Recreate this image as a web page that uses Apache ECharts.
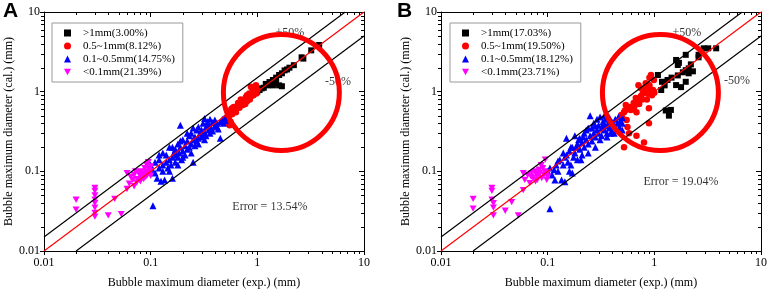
<!DOCTYPE html>
<html>
<head>
<meta charset="utf-8">
<script src="https://cdn.jsdelivr.net/npm/echarts@6/dist/echarts.min.js"></script>
<style>
html, body { margin: 0; padding: 0; background: #fff; }
#main { width: 768px; height: 291px; }
</style>
</head>
<body>
<div id="main"></div>
<script>
// ---- panel A data (exp., cal.) in mm
const bigA = [[1.0,1.0],[1.05,1.05],[1.1,1.1],[1.15,1.12],[1.2,1.25],[1.25,1.2],[1.3,1.32],[1.4,1.4],[1.4,1.2],[1.45,1.35],[1.5,1.5],[1.5,1.28],[1.6,1.62],[1.6,1.2],[1.7,1.17],[1.7,1.7],[1.8,1.85],[1.9,1.9],[2.0,2.0],[2.2,2.15],[2.6,2.7],[2.7,2.6],[3.2,3.3],[3.8,3.85]];
const midA = [[0.52,0.4],[0.53,0.5],[0.54,0.45],[0.55,0.55],[0.56,0.42],[0.57,0.6],[0.58,0.52],[0.6,0.57],[0.6,0.64],[0.62,0.6],[0.63,0.55],[0.65,0.66],[0.66,0.72],[0.68,0.63],[0.7,0.7],[0.72,0.75],[0.73,0.68],[0.75,0.78],[0.76,0.72],[0.78,0.85],[0.8,0.76],[0.8,0.9],[0.82,0.82],[0.84,0.95],[0.85,0.8],[0.87,1.15],[0.88,0.88],[0.9,0.95],[0.92,0.9],[0.93,1.05],[0.95,1.0],[0.97,1.2],[0.98,0.95],[1.0,1.05],[0.55,0.38],[0.51,0.47],[0.58,0.62],[0.7,0.8],[0.77,0.7],[0.9,1.1]];
const smallA = [[0.1,0.12],[0.105,0.037],[0.105,0.1],[0.11,0.13],[0.11,0.095],[0.115,0.082],[0.12,0.11],[0.12,0.14],[0.125,0.075],[0.13,0.12],[0.13,0.1],[0.135,0.078],[0.14,0.13],[0.14,0.16],[0.145,0.11],[0.15,0.14],[0.15,0.2],[0.155,0.12],[0.16,0.15],[0.16,0.082],[0.165,0.17],[0.17,0.13],[0.17,0.19],[0.175,0.16],[0.18,0.15],[0.18,0.22],[0.185,0.17],[0.19,0.38],[0.19,0.2],[0.195,0.14],[0.2,0.18],[0.2,0.25],[0.21,0.21],[0.21,0.16],[0.22,0.24],[0.22,0.19],[0.23,0.28],[0.23,0.2],[0.24,0.22],[0.24,0.3],[0.25,0.13],[0.25,0.25],[0.26,0.27],[0.26,0.21],[0.27,0.33],[0.27,0.24],[0.28,0.26],[0.28,0.36],[0.29,0.3],[0.3,0.27],[0.3,0.33],[0.31,0.4],[0.31,0.29],[0.32,0.31],[0.32,0.46],[0.33,0.36],[0.33,0.28],[0.34,0.42],[0.35,0.33],[0.35,0.38],[0.36,0.3],[0.37,0.35],[0.38,0.41],[0.38,0.32],[0.4,0.37],[0.4,0.44],[0.42,0.4],[0.43,0.34],[0.45,0.26],[0.45,0.42],[0.47,0.45],[0.48,0.4],[0.5,0.47],[0.5,0.43],[0.12,0.16],[0.13,0.17],[0.15,0.1],[0.18,0.12],[0.2,0.15],[0.22,0.3],[0.25,0.35],[0.28,0.22],[0.32,0.25],[0.36,0.45],[0.42,0.36],[0.24,0.17],[0.19,0.24],[0.16,0.2]];
const tinyA = [[0.02,0.044],[0.02,0.033],[0.03,0.062],[0.03,0.057],[0.03,0.05],[0.03,0.044],[0.03,0.04],[0.03,0.035],[0.03,0.03],[0.03,0.027],[0.04,0.028],[0.046,0.045],[0.053,0.029],[0.06,0.095],[0.06,0.06],[0.063,0.07],[0.065,0.085],[0.07,0.065],[0.07,0.09],[0.072,0.1],[0.075,0.08],[0.077,0.095],[0.08,0.088],[0.08,0.075],[0.082,0.1],[0.085,0.092],[0.086,0.08],[0.088,0.11],[0.09,0.1],[0.09,0.085],[0.092,0.12],[0.095,0.095],[0.095,0.13],[0.097,0.105],[0.1,0.1],[0.1,0.115],[0.1,0.088],[0.068,0.078],[0.074,0.072],[0.083,0.083],[0.093,0.09],[0.078,0.098]];

// ---- panel B data
const bigB = [[1.08,1.62],[1.18,1.33],[1.16,1.05],[1.33,1.4],[1.6,2.5],[1.66,2.16],[1.7,2.3],[1.66,1.6],[1.6,1.21],[1.78,1.14],[1.97,2.9],[1.97,1.86],[1.97,1.33],[2.1,1.7],[2.2,2.2],[2.1,1.96],[2.6,2.7],[2.9,3.5],[3.2,3.5],[3.8,3.5],[1.43,0.59],[1.28,0.58],[1.37,0.5],[1.45,1.5],[1.25,1.2],[2.3,1.8],[1.85,1.75],[2.6,2.9]];
const midB = [[0.52,0.2],[0.8,0.23],[0.58,0.3],[0.68,0.28],[0.89,0.4],[0.89,0.62],[0.55,0.44],[0.52,0.55],[0.6,0.59],[0.68,0.55],[0.71,1.2],[0.93,1.62],[0.99,1.4],[0.85,1.1],[0.93,1.05],[0.8,0.97],[0.75,0.88],[0.68,0.8],[0.64,0.72],[0.61,0.64],[0.58,0.64],[0.54,0.68],[1.0,0.97],[0.95,0.9],[0.85,0.8],[0.77,0.8],[0.67,0.83],[0.75,1.1],[0.83,1.28],[0.49,0.51],[0.5,0.47],[0.56,0.36],[0.62,0.6],[0.72,0.7],[0.78,0.95],[0.88,0.95],[0.9,1.2],[0.97,1.05],[0.53,0.58],[0.65,0.65],[0.8,1.0],[0.7,0.75],[0.9,1.5]];
const smallB = [[0.105,0.034],[0.1,0.1],[0.105,0.11],[0.11,0.09],[0.117,0.078],[0.12,0.12],[0.125,0.1],[0.13,0.14],[0.135,0.078],[0.14,0.12],[0.145,0.074],[0.15,0.26],[0.15,0.16],[0.155,0.13],[0.16,0.18],[0.165,0.12],[0.17,0.095],[0.17,0.2],[0.175,0.15],[0.18,0.28],[0.18,0.17],[0.19,0.22],[0.19,0.14],[0.2,0.19],[0.2,0.26],[0.205,0.14],[0.21,0.23],[0.22,0.3],[0.22,0.2],[0.23,0.25],[0.24,0.35],[0.24,0.22],[0.25,0.5],[0.25,0.28],[0.26,0.24],[0.27,0.4],[0.27,0.3],[0.28,0.27],[0.29,0.45],[0.29,0.33],[0.3,0.3],[0.3,0.38],[0.31,0.48],[0.32,0.35],[0.32,0.28],[0.33,0.42],[0.34,0.33],[0.35,0.45],[0.35,0.37],[0.36,0.3],[0.37,0.4],[0.38,0.47],[0.38,0.35],[0.4,0.42],[0.4,0.32],[0.42,0.38],[0.43,0.45],[0.44,0.33],[0.45,0.4],[0.46,0.48],[0.47,0.36],[0.48,0.43],[0.5,0.4],[0.5,0.47],[0.14,0.17],[0.16,0.1],[0.21,0.16],[0.23,0.33],[0.26,0.35],[0.28,0.2],[0.31,0.25],[0.34,0.5],[0.36,0.27],[0.125,0.135],[0.115,0.105],[0.185,0.2],[0.195,0.25],[0.24,0.17],[0.33,0.38],[0.42,0.3],[0.39,0.3],[0.28,0.37],[0.215,0.27],[0.165,0.2],[0.145,0.15],[0.5,0.33]];
const tinyB = [[0.02,0.045],[0.02,0.034],[0.03,0.062],[0.03,0.057],[0.03,0.044],[0.031,0.04],[0.031,0.035],[0.031,0.028],[0.04,0.032],[0.046,0.041],[0.053,0.028],[0.059,0.058],[0.061,0.078],[0.059,0.095],[0.068,0.071],[0.073,0.082],[0.079,0.089],[0.085,0.096],[0.095,0.14],[0.09,0.11],[0.08,0.078],[0.098,0.095],[0.076,0.1],[0.088,0.082],[0.071,0.095],[0.1,0.096],[0.098,0.078],[0.083,0.105],[0.092,0.09],[0.087,0.12],[0.077,0.075],[0.094,0.1],[0.07,0.085],[0.065,0.09],[0.1,0.085],[0.082,0.092]];

const namesA = ['>1mm(3.00%)', '0.5~1mm(8.12%)', '0.1~0.5mm(14.75%)', '<0.1mm(21.39%)'];
const namesB = ['>1mm(17.03%)', '0.5~1mm(19.50%)', '0.1~0.5mm(18.12%)', '<0.1mm(23.71%)'];

// reference lines: 1:1, +50%, -50%
const refLine = [[0.01, 0.01], [10, 10]];
const upperLine = [[0.01, 0.015], [6.667, 10]];
const lowerLine = [[0.02, 0.01], [10, 5]];

// highlighted region centres
const circleA = [[1.68, 0.976]];
const circleB = [[1.14, 0.976]];

const notesA = [{value: [2.02, 5.45], name: '+50%'}, {value: [5.7, 1.32], name: '-50%'}, {value: [1.31, 0.0357], name: 'Error = 13.54%'}];
const notesB = [{value: [2.02, 5.45], name: '+50%'}, {value: [5.96, 1.36], name: '-50%'}, {value: [1.78, 0.0735], name: 'Error = 19.04%'}];

// minor tick values on log axes
const minorTicks = [0.02,0.03,0.04,0.05,0.06,0.07,0.08,0.09,0.2,0.3,0.4,0.5,0.6,0.7,0.8,0.9,2,3,4,5,6,7,8,9];

const FONT = 'Liberation Serif';
const colors = ['#000000', '#ff0000', '#0000ff', '#ff00ff'];
const symbols = ['rect', 'circle', 'triangle', 'path://M0,0L10,0L5,9Z'];
const sizes = [6, 6.5, 7, 7];

const chart = echarts.init(document.getElementById('main'));

function minorTickItem(params, api) {
  const v = api.value(0);
  const b = api.coord([v, 0.01]);
  const t = api.coord([v, 10]);
  const l = api.coord([0.01, v]);
  const r = api.coord([10, v]);
  const st = {stroke: '#000', lineWidth: 1};
  const bx = Math.round(b[0]) + 0.5, ly = Math.round(l[1]) + 0.5;
  return {
    type: 'group',
    children: [
      {type: 'line', shape: {x1: bx, y1: b[1], x2: bx, y2: b[1] + 3}, style: st},
      {type: 'line', shape: {x1: bx, y1: t[1], x2: bx, y2: t[1] + 3}, style: st},
      {type: 'line', shape: {x1: l[0], y1: ly, x2: l[0] - 3, y2: ly}, style: st},
      {type: 'line', shape: {x1: r[0], y1: ly, x2: r[0] - 3, y2: ly}, style: st}
    ]
  };
}

function axesFor(gridIndex, isX) {
  const base = {
    type: 'log', logBase: 10, min: 0.01, max: 10, gridIndex: gridIndex,
    splitLine: {show: false},
    axisLine: {show: true, onZero: false, lineStyle: {color: '#000', width: 1}}
  };
  const main = Object.assign({}, base, {
    position: isX ? 'bottom' : 'left',
    name: isX ? 'Bubble maximum diameter (exp.) (mm)' : 'Bubble maximum diameter (cal.) (mm)',
    nameLocation: 'middle',
    nameGap: isX ? 26 : 29,
    nameTextStyle: {fontFamily: FONT, fontSize: 12, color: '#000'},
    axisTick: {show: true, inside: false, length: 4, lineStyle: {color: '#000'}},
    axisLabel: {fontFamily: FONT, fontSize: 12, color: '#000', margin: isX ? 6 : 4}
  });
  const mirror = Object.assign({}, base, {
    position: isX ? 'top' : 'right',
    axisTick: {show: true, inside: true, length: 5, lineStyle: {color: '#000'}},
    axisLabel: {show: false}
  });
  return [main, mirror];
}

function panelSeries(names, groups, xi, yi, circle, notes) {
  const out = [];
  groups.forEach((d, i) => {
    out.push({
      name: names[i], type: 'scatter', xAxisIndex: xi, yAxisIndex: yi,
      data: d, symbol: symbols[i], symbolSize: sizes[i], symbolKeepAspect: true,
      itemStyle: {color: colors[i], opacity: 1}, z: 2
    });
  });
  out.push({type: 'custom', xAxisIndex: xi, yAxisIndex: yi, data: minorTicks.map(v => [v, v]),
    renderItem: minorTickItem, silent: true, clip: false, z: 5});
  [[upperLine, '#000'], [lowerLine, '#000'], [refLine, '#ff0000']].forEach(([d, c]) => {
    out.push({type: 'line', xAxisIndex: xi, yAxisIndex: yi, data: d, symbol: 'none',
      lineStyle: {color: c, width: 1.2}, silent: true, z: 3});
  });
  out.push({type: 'scatter', xAxisIndex: xi, yAxisIndex: yi, data: notes, symbolSize: 0, silent: true, z: 3,
    label: {show: true, position: 'inside', formatter: p => p.name, fontFamily: FONT, fontSize: 12, color: '#000'}});
  out.push({type: 'scatter', xAxisIndex: xi, yAxisIndex: yi, data: circle, symbol: 'circle', symbolSize: 116,
    itemStyle: {color: 'rgba(0,0,0,0)', borderColor: '#ff0000', borderWidth: 5, opacity: 1}, silent: true, z: 4});
  return out;
}

function legendFor(names, left) {
  return {
    orient: 'vertical', left: left, top: 23, data: names,
    itemWidth: 7, itemHeight: 7, itemGap: 1, padding: [4, 8, 4, 12],
    borderColor: '#999', borderWidth: 1, borderRadius: 0,
    selectedMode: false,
    textStyle: {fontFamily: FONT, fontSize: 11, color: '#000', lineHeight: 12, padding: [0, 0, 0, 7]}
  };
}

const axA_x = axesFor(0, true), axB_x = axesFor(1, true);
const axA_y = axesFor(0, false), axB_y = axesFor(1, false);

const option = {
  animation: false,
  backgroundColor: '#fff',
  grid: [
    {left: 44, top: 12, width: 320, height: 239, outerBoundsMode: 'none', containLabel: false},
    {left: 441, top: 12, width: 320, height: 239, outerBoundsMode: 'none', containLabel: false}
  ],
  xAxis: [axA_x[0], axA_x[1], axB_x[0], axB_x[1]],
  yAxis: [axA_y[0], axA_y[1], axB_y[0], axB_y[1]],
  legend: [legendFor(namesA, 52), legendFor(namesB, 450)],
  graphic: [
    {type: 'text', left: 3, top: 1, style: {text: 'A', font: 'bold 21px "Liberation Sans"', fill: '#000'}},
    {type: 'text', left: 397, top: 1, style: {text: 'B', font: 'bold 21px "Liberation Sans"', fill: '#000'}}
  ],
  series: [].concat(
    panelSeries(namesA, [bigA, midA, smallA, tinyA], 0, 0, circleA, notesA),
    panelSeries(namesB, [bigB, midB, smallB, tinyB], 2, 2, circleB, notesB)
  )
};

chart.setOption(option);
</script>
</body>
</html>
